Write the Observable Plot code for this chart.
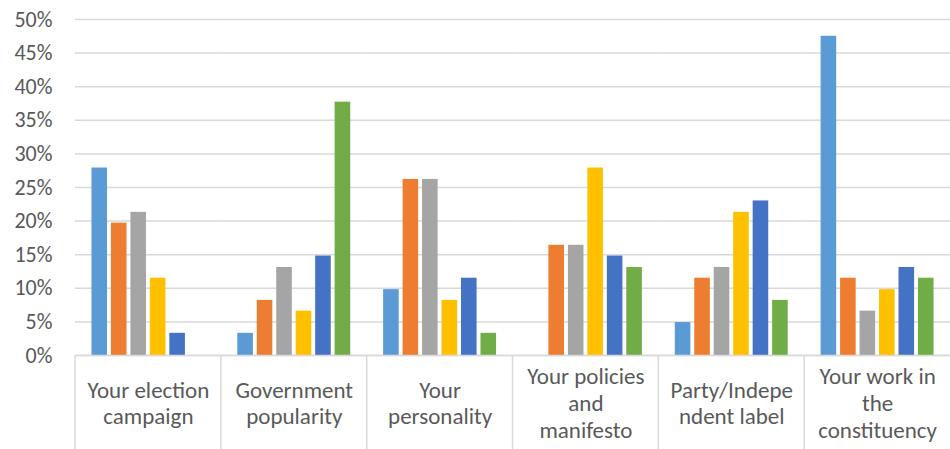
<!DOCTYPE html>
<html>
<head>
<meta charset="utf-8">
<script src="https://cdn.jsdelivr.net/npm/d3@7"></script>
<script src="https://cdn.jsdelivr.net/npm/@observablehq/plot@0.6"></script>
<style>
  body { margin: 0; background: #ffffff; }
  #chart svg { display: block; }
</style>
</head>
<body>
<div id="chart"></div>
<script>
// Factors rated by respondents (share of answers, %)
const categories = [
  "Your election campaign",
  "Government popularity",
  "Your personality",
  "Your policies and manifesto",
  "Party/Independent label",
  "Your work in the constituency"
];
const categoryLabels = [
  "Your election\ncampaign",
  "Government\npopularity",
  "Your\npersonality",
  "Your policies\nand\nmanifesto",
  "Party/Indepe\nndent label",
  "Your work in\nthe\nconstituency"
];
const seriesNames = ["Series 1", "Series 2", "Series 3", "Series 4", "Series 5", "Series 6"];
const seriesColors = ["#5B9BD5", "#ED7D31", "#A5A5A5", "#FFC000", "#4472C4", "#70AD47"];

const series1 = [27.9, 3.3, 9.8, 0, 4.9, 47.5];
const series2 = [19.7, 8.2, 26.2, 16.4, 11.5, 11.5];
const series3 = [21.3, 13.1, 26.2, 16.4, 13.1, 6.6];
const series4 = [11.5, 6.6, 8.2, 27.9, 21.3, 9.8];
const series5 = [3.3, 14.8, 11.5, 14.8, 23.0, 13.1];
const series6 = [0, 37.7, 3.3, 13.1, 8.2, 11.5];

const yTicks = [0, 5, 10, 15, 20, 25, 30, 35, 40, 45, 50];

const allSeries = [series1, series2, series3, series4, series5, series6];
const rows = [];
categories.forEach((category, i) => {
  allSeries.forEach((values, s) => {
    rows.push({category, series: seriesNames[s], value: values[i]});
  });
});

const labelOf = new Map(categories.map((c, i) => [c, categoryLabels[i]]));
const textColor = "#595959";
const lineColor = "#d9d9d9";

const chart = Plot.plot({
  width: 950,
  height: 449,
  marginLeft: 75,
  marginRight: 0,
  marginTop: 19,
  marginBottom: 94,
  style: {
    fontFamily: "Calibri, Carlito, Lato, sans-serif",
    fontSize: "22px",
    color: textColor,
    background: "#ffffff"
  },
  fx: {domain: categories, padding: 0, round: false, label: null},
  x: {domain: seriesNames, paddingInner: 0.2, paddingOuter: 0.845, round: false, axis: null},
  y: {domain: [0, 50], label: null},
  color: {domain: seriesNames, range: seriesColors},
  marks: [
    Plot.gridY(yTicks, {stroke: lineColor, strokeOpacity: 1, strokeWidth: 1.5}),
    Plot.axisY(yTicks, {
      tickSize: 0,
      tickPadding: 23,
      tickFormat: d => d + "%",
      fontSize: 22,
      label: null
    }),
    Plot.axisFx({
      anchor: "bottom",
      tickSize: 0,
      tickPadding: 47,
      lineAnchor: "middle",
      lineHeight: 1.16,
      fontSize: 23,
      tickFormat: d => labelOf.get(d),
      label: null
    }),
    Plot.barY(rows, {fx: "category", x: "series", y: "value", fill: "series"}),
    Plot.ruleY([0], {stroke: lineColor, strokeWidth: 1.5})
  ]
});

// Vertical separators between the category cells of the axis
const fx = chart.scale("fx");
const y = chart.scale("y");
const y0 = y.apply ? y.apply(0) : y.range[0];
const svg = d3.select(chart);
const edges = categories.map((c, i) =>
  fx.apply ? fx.apply(c) : fx.range[0] + i * fx.step
);
svg.append("g")
  .attr("stroke", lineColor)
  .attr("stroke-width", 1.5)
  .selectAll("line")
  .data(edges)
  .join("line")
  .attr("x1", d => d)
  .attr("x2", d => d)
  .attr("y1", y0)
  .attr("y2", 449);

document.getElementById("chart").appendChild(chart);
</script>
</body>
</html>
